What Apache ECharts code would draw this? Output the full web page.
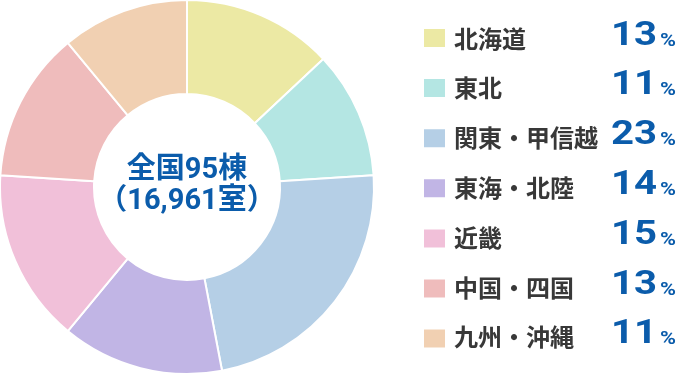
<!DOCTYPE html>
<html><head><meta charset="utf-8">
<script src="https://cdn.jsdelivr.net/npm/echarts@6/dist/echarts.min.js"></script>
<style>html,body{margin:0;padding:0;background:#fff}#c{width:680px;height:374px}</style>
</head><body><div id="c"></div>
<script>
const categories = ['北海道', '東北', '関東・甲信越', '東海・北陸', '近畿', '中国・四国', '九州・沖縄'];
const shares = [13, 11, 23, 14, 15, 13, 11];
const colors = ['#ece9a4', '#b4e6e3', '#b5cfe6', '#c1b5e5', '#f1c0d9', '#efbcbc', '#f1d0b2'];
const centerLines = ['全国95棟', '（16,961室）'];

const blue = '#0b5cab';
const jp = '"Noto Sans CJK JP", sans-serif';
const num = 'Roboto, "Noto Sans CJK JP", sans-serif';

// legend layout
const rowTop = 39, rowStep = 49.8;

const legendTexts = [];
categories.forEach((c, i) => {
  const y = rowTop + i * rowStep;
  legendTexts.push({
    type: 'text', x: 454, y: y - 0.5, silent: true,
    style: {text: c, fontFamily: jp, fontWeight: 'bold', fontSize: 24, fill: '#383838', align: 'left', verticalAlign: 'middle'}
  });
  legendTexts.push({
    type: 'text', x: 657, y: y - 3, scaleX: 1.18, silent: true,
    style: {text: String(shares[i]), fontFamily: num, fontWeight: 'bold', fontSize: 34, fill: blue, align: 'right', verticalAlign: 'middle'}
  });
  legendTexts.push({
    type: 'text', x: 660, y: y + 2, scaleX: 1.2, silent: true,
    style: {text: '%', fontFamily: num, fontWeight: 'bold', fontSize: 18, fill: blue, align: 'left', verticalAlign: 'middle'}
  });
});

const chart = echarts.init(document.getElementById('c'), null, {renderer: 'canvas'});
chart.setOption({
  animation: false,
  color: colors,
  legend: {
    orient: 'vertical',
    left: 417,
    top: 22,
    padding: 5,
    itemWidth: 23,
    itemHeight: 20,
    itemGap: 28.1,
    icon: 'rect',
    selectedMode: false,
    data: categories,
    formatter: function () { return ''; },
    textStyle: {fontSize: 10, lineHeight: 20}
  },
  graphic: [{
    type: 'text',
    x: 187, y: 186,
    style: {
      text: centerLines.join('\n'),
      align: 'center',
      verticalAlign: 'middle',
      fontFamily: num,
      fontWeight: 'bold',
      fontSize: 29,
      lineHeight: 31,
      fill: blue
    }
  }].concat(legendTexts),
  series: [{
    type: 'pie',
    center: [187, 187],
    radius: [93, 187],
    startAngle: 90,
    clockwise: true,
    silent: true,
    label: {show: false},
    labelLine: {show: false},
    itemStyle: {borderColor: '#fff', borderWidth: 2},
    data: categories.map((c, i) => ({name: c, value: shares[i]}))
  }]
});
</script></body></html>
